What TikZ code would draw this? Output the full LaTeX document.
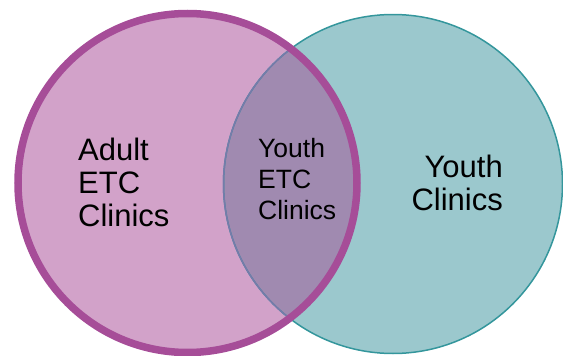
\documentclass[tikz,border=0pt]{standalone}
\usepackage{fontspec}
\setmainfont{Liberation Sans}
\definecolor{pinkfill}{RGB}{210,162,201}
\definecolor{pinkline}{RGB}{166,77,152}
\definecolor{tealfill}{RGB}{155,200,205}
\definecolor{tealline}{RGB}{52,150,156}
\definecolor{overlapfill}{RGB}{160,138,176}
\definecolor{overlapline}{RGB}{118,122,170}
\tikzset{
  bigtext/.style={inner sep=0pt, font=\fontsize{31}{33}\selectfont},
  midtext/.style={inner sep=0pt, font=\fontsize{26.5}{31}\selectfont},
}
\begin{document}
\begin{tikzpicture}[x=1pt,y=-1pt]
\useasboundingbox (0,0) rectangle (563,356);
\coordinate (lc) at (187.5,183);
\coordinate (rc) at (393,184);
% fills
\fill[pinkfill] (lc) circle[radius=169.5];
\fill[tealfill] (rc) circle[radius=169.5];
\begin{scope}
  \clip (lc) circle[radius=169.5];
  \fill[overlapfill] (rc) circle[radius=169.5];
\end{scope}
% right circle outline
\draw[tealline, line width=1.5pt] (rc) circle[radius=169.5];
\begin{scope}
  \clip (lc) circle[radius=169.5];
  \draw[overlapline, line width=1.5pt] (rc) circle[radius=169.5];
\end{scope}
% left circle outline
\draw[pinkline, line width=7.5pt] (lc) circle[radius=169.5];
% texts (base anchor = baseline of last line)
\node[bigtext, anchor=base west, align=left] (adult) at (78,226) {Adult\\ETC\\Clinics};
\node[midtext, anchor=base west, align=left] (youthetc) at (258,219) {Youth\\ETC\\Clinics};
\node[bigtext, anchor=base east, align=right] (youth) at (503,210) {Youth\\Clinics};
\end{tikzpicture}
\end{document}
